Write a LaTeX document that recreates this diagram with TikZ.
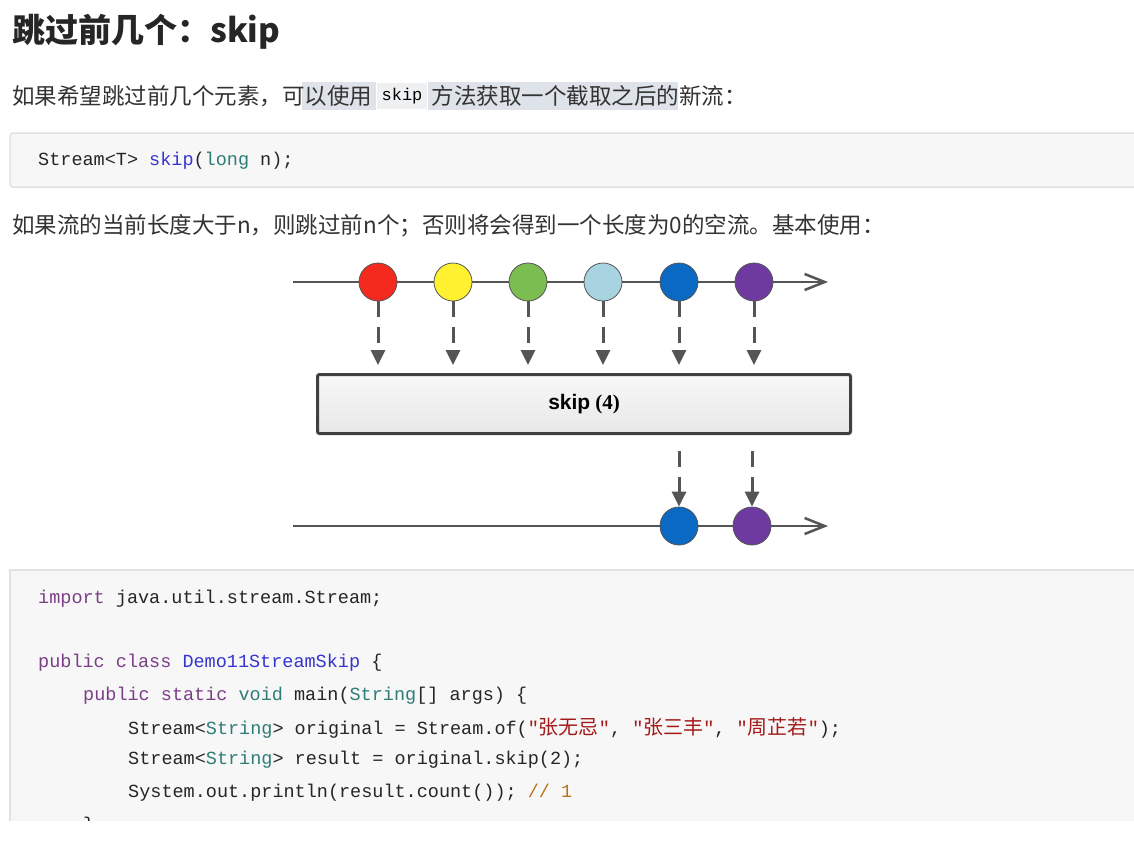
\documentclass[tikz,border=0pt]{standalone}
\usepackage{fontspec}
\setmainfont{Noto Sans CJK SC}
\setmonofont{Liberation Mono}
\newfontfamily\cjk{Noto Sans CJK SC}
\newfontfamily\arialfont{Liberation Sans}
\newfontfamily\timesfont{Liberation Serif}
\usetikzlibrary{arrows.meta,positioning}
\definecolor{testo}{HTML}{333333}
\definecolor{kw}{HTML}{7B3F86}
\definecolor{cls}{HTML}{3535D0}
\definecolor{ty}{HTML}{2E7D78}
\definecolor{str}{HTML}{A31A1A}
\definecolor{com}{HTML}{B8741A}
\definecolor{hl}{HTML}{DEE3E9}
\definecolor{inl}{HTML}{EEF0F2}
\definecolor{codebg}{HTML}{F7F7F7}
\definecolor{codeln}{HTML}{E2E2E2}
\definecolor{linea}{HTML}{555555}
\definecolor{mred}{HTML}{F52A1E}
\definecolor{myellow}{HTML}{FFF030}
\definecolor{mgreen}{HTML}{7CBD52}
\definecolor{mcyan}{HTML}{A8D4E2}
\definecolor{mblue}{HTML}{0A69C3}
\definecolor{mpurple}{HTML}{6F3A9F}
\newcommand\corpo{\fontsize{22.5}{27}\selectfont}
\newcommand\codice{\ttfamily\fontsize{18.5}{22}\selectfont}
\newcommand\zh[1]{{\cjk\fontsize{20}{22}\selectfont #1}}

\begin{document}
\begin{tikzpicture}[x=1pt,y=-1pt]
\tikzstyle{riga} = [anchor=west,inner sep=0pt,text=testo]
\tikzstyle{cod} = [anchor=west,inner sep=0pt,text=black!85,font=\codice]
\tikzstyle{scatola} = [fill=codebg,draw=codeln,line width=1.5pt]
\tikzstyle{tempo} = [draw=linea,line width=2.5pt,-{Straight Barb[length=20pt,width=16pt]}]
\tikzstyle{palla} = [circle,draw=linea,line width=0.8pt,minimum size=38pt,inner sep=0pt]
\tikzstyle{salto} = [draw=linea,line width=3pt,dash pattern=on 16pt off 10pt,-{Triangle[length=15pt,width=14pt]}]
\useasboundingbox[fill=white] (0,0) rectangle (1134,843);
% title and text
\node[riga,text=black!85,font=\fontsize{33}{40}\selectfont\bfseries] (titolo) at (12,32) {跳过前几个：skip};
\fill[hl] (302,82) rectangle (678,110);
\node[riga,font=\corpo] (p1) at (12,96) {如果希望跳过前几个元素，可以使用};
\node[right=4pt of p1,fill=inl,draw=white,inner xsep=5pt,minimum height=27pt,font=\ttfamily\fontsize{17}{20}\selectfont] (k1) {skip};
\node[right=4pt of k1,riga,font=\corpo] (p2) {方法获取一个截取之后的新流：};
\draw[scatola,rounded corners=3pt] (10,133) rectangle (1140,187);
\node[cod] (c0) at (38,161) {Stream<T> \textcolor{cls}{skip}(\textcolor{ty}{long} n);};
\node[riga,font=\corpo] (p3) at (12,226) {如果流的当前长度大于n，则跳过前n个；否则将会得到一个长度为0的空流。基本使用：};
% marbles
\coordinate (a0) at (293,282);
\coordinate (a1) at (828,282);
\coordinate (b0) at (293,526);
\coordinate (b1) at (828,526);
\draw[tempo] (a0) -- (a1);
\draw[tempo] (b0) -- (b1);
\node[palla,fill=mred] (v1) at (378,282) {};
\node[palla,fill=myellow] (v2) at (453,282) {};
\node[palla,fill=mgreen] (v3) at (528,282) {};
\node[palla,fill=mcyan] (v4) at (603,282) {};
\node[palla,fill=mblue] (v5) at (679,282) {};
\node[palla,fill=mpurple] (v6) at (754,282) {};
\node[draw=black!75,line width=3pt,rounded corners=2pt,top color=white!97!black,bottom color=white!91!black,minimum width=533pt,minimum height=59pt] (op) at (584,404) {{\arialfont\bfseries\fontsize{21}{24}\selectfont skip}\hspace{5pt}{\timesfont\bfseries\fontsize{21}{24}\selectfont (4)}};
\node[palla,fill=mblue] (w5) at (679,526) {};
\node[palla,fill=mpurple] (w6) at (752,526) {};
\draw[salto,shorten >=8pt] (v1) -- (v1 |- op.north);
\draw[salto,shorten >=8pt] (v2) -- (v2 |- op.north);
\draw[salto,shorten >=8pt] (v3) -- (v3 |- op.north);
\draw[salto,shorten >=8pt] (v4) -- (v4 |- op.north);
\draw[salto,shorten >=8pt] (v5) -- (v5 |- op.north);
\draw[salto,shorten >=8pt] (v6) -- (v6 |- op.north);
\draw[salto,shorten <=16pt] (w5 |- op.south) -- (w5);
\draw[salto,shorten <=16pt] (w6 |- op.south) -- (w6);
% code
\begin{scope}
\clip (0,0) rectangle (1134,820);
\draw[scatola] (10,570) rectangle (1140,900);
\node[cod] (l1) at (38,599) {\textcolor{kw}{import} java.util.stream.Stream;};
\node[cod] (l2) at (38,663) {\textcolor{kw}{public class} \textcolor{cls}{Demo11StreamSkip} \{};
\node[cod] (l3) at (83,696) {\textcolor{kw}{public static} \textcolor{ty}{void} main(\textcolor{ty}{String}[] args) \{};
\node[cod] (l4) at (128,728) {Stream<\textcolor{ty}{String}> original = Stream.of(\textcolor{str}{"\zh{张无忌}"}, \textcolor{str}{"\zh{张三丰}"}, \textcolor{str}{"\zh{周芷若}"});};
\node[cod] (l5) at (128,760) {Stream<\textcolor{ty}{String}> result = original.skip(2);};
\node[cod] (l6) at (128,793) {System.out.println(result.count()); \textcolor{com}{// 1}};
\node[cod] (l7) at (83,826) {\}};
\end{scope}
\end{tikzpicture}
\end{document}
